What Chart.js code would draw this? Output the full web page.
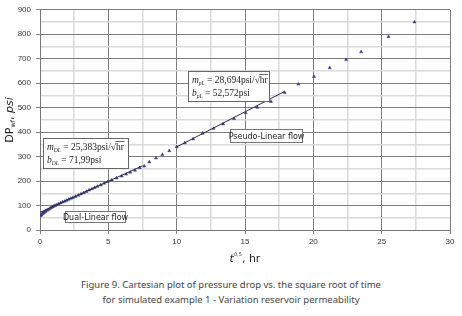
<!DOCTYPE html>
<html>
<head>
<meta charset="utf-8">
<script src="https://cdn.jsdelivr.net/npm/chart.js@4.4.1/dist/chart.umd.min.js"></script>
<style>
  html, body { margin: 0; padding: 0; background: #fff; }
  #wrap { position: relative; width: 462px; height: 316px; overflow: hidden; }
  #chart { position: absolute; left: 0; top: 0; }
  #caption {
    position: absolute; left: 0; top: 277px; width: 462px;
    text-align: center; font-family: "Noto Sans", sans-serif;
    font-size: 9.5px; line-height: 15px; color: #444;
  }
</style>
</head>
<body>
<div id="wrap">
  <canvas id="chart" width="462" height="270"></canvas>
  <div id="caption">Figure 9. Cartesian plot of pressure drop vs. the square root of time<br>for simulated example 1 - Variation reservoir permeability</div>
</div>
<script>
// simulated pressure drop vs sqrt(t)
const sqrtTime = [
  0.05, 0.1, 0.15, 0.2, 0.25, 0.3, 0.35, 0.4, 0.5, 0.6, 0.7, 0.8, 0.9, 1.0,
  1.1, 1.2, 1.35, 1.5, 1.65, 1.8, 1.95, 2.1, 2.25, 2.4, 2.6, 2.8, 3.0, 3.2,
  3.4, 3.6, 3.8, 4.0, 4.2, 4.45, 4.7, 4.95, 5.25, 5.6, 5.98, 6.3, 6.6, 6.95,
  7.3, 7.63, 8.0, 8.49, 8.95, 9.46, 10.0, 10.6, 11.2, 11.9, 12.7, 13.4, 14.2,
  15.05, 15.9, 16.9, 17.9, 18.9, 20.05, 21.2, 22.4, 23.5, 25.5, 27.4
];
const pressureDrop = [
  58, 62, 65, 68, 70, 72, 74, 76, 80, 83, 87, 91, 94, 97,
  100, 102, 106, 110, 114, 117, 121, 125, 129, 132, 137, 142, 147, 152,
  157, 163, 168, 173, 178, 184, 191, 197, 204, 212, 220, 228, 236, 244,
  254, 261, 278, 294, 308, 324, 340, 356, 372, 395, 415, 433, 455,
  479, 501, 525, 562, 596, 627, 663, 696, 728, 790, 850
];

// straight-line fits drawn on the plot
const dualLinearX = [0, 7.5];
const dualLinearY = [72, 262.4];
const pseudoLinearX = [10, 17.9];
const pseudoLinearY = [339.5, 566.2];

const xTicks = [0, 5, 10, 15, 20, 25, 30];
const yTicks = [0, 100, 200, 300, 400, 500, 600, 700, 800, 900];

const majorGrid = "#7d7d7d";
const minorGrid = "#dadada";

function toPoints(xs, ys) {
  return xs.map((x, i) => ({ x: x, y: ys[i] }));
}

function isMajor(v, list) {
  return list.indexOf(v) !== -1;
}

// draws text pieces one after another: [text, font, dy]
function drawRun(ctx, x, y, parts) {
  let cx = x;
  parts.forEach((p) => {
    ctx.font = p[1];
    ctx.fillText(p[0], cx, y + (p[2] || 0));
    const w = ctx.measureText(p[0]).width;
    if (p[3]) {
      // overline for the square root
      ctx.beginPath();
      ctx.moveTo(cx - 0.5, y - 8.5);
      ctx.lineTo(cx + w + 0.5, y - 8.5);
      ctx.lineWidth = 0.7;
      ctx.stroke();
    }
    cx += w;
  });
}

function fitBox(ctx, left, top, w, h, sub, slope, intercept) {
  ctx.save();
  ctx.fillStyle = "#fff";
  ctx.fillRect(left, top, w, h);
  ctx.strokeStyle = "#666";
  ctx.lineWidth = 1;
  ctx.strokeRect(left + 0.5, top + 0.5, w, h);
  ctx.fillStyle = "#222";
  ctx.strokeStyle = "#222";
  ctx.textBaseline = "alphabetic";
  const serif = "'Liberation Serif', serif";
  drawRun(ctx, left + 4, top + 12, [
    ["m", "italic 9.5px " + serif],
    [sub, "italic 5.5px " + serif, 2],
    [" = " + slope + "psi/", "9.5px " + serif],
    ["\u221A", "9.5px " + serif],
    ["hr", "9.5px " + serif, 0, true]
  ]);
  drawRun(ctx, left + 4, top + 25, [
    ["b", "italic 9.5px " + serif],
    [sub, "italic 5.5px " + serif, 2],
    [" = " + intercept + "psi", "9.5px " + serif]
  ]);
  ctx.restore();
}

function labelBox(ctx, left, top, w, h, text) {
  ctx.save();
  ctx.fillStyle = "#fff";
  ctx.fillRect(left, top, w, h);
  ctx.strokeStyle = "#777";
  ctx.lineWidth = 1;
  ctx.strokeRect(left + 0.5, top + 0.5, w, h);
  ctx.fillStyle = "#222";
  ctx.font = "8px 'DejaVu Sans', sans-serif";
  ctx.textAlign = "center";
  ctx.textBaseline = "middle";
  ctx.fillText(text, left + w / 2 + 0.5, top + h / 2 + 1);
  ctx.restore();
}

const notesPlugin = {
  id: "notes",
  afterDraw(chart) {
    const ctx = chart.ctx;
    const xs = chart.scales.x;
    const ys = chart.scales.y;
    const area = chart.chartArea;

    fitBox(ctx, Math.round(xs.getPixelForValue(0.22)), Math.round(ys.getPixelForValue(374)),
      85, 30, "DL", "25,383", "71,99");
    fitBox(ctx, Math.round(xs.getPixelForValue(10.8)), Math.round(ys.getPixelForValue(650)),
      81, 30, "pL", "28,694", "52,572");
    labelBox(ctx, Math.round(xs.getPixelForValue(1.83)), Math.round(ys.getPixelForValue(77)),
      60, 11, "Dual-Linear flow");
    labelBox(ctx, Math.round(xs.getPixelForValue(13.9)), Math.round(ys.getPixelForValue(412)),
      72, 13, "Pseudo-Linear flow");

    // y axis title
    ctx.save();
    ctx.translate(10, (area.top + area.bottom) / 2);
    ctx.rotate(-Math.PI / 2);
    ctx.fillStyle = "#222";
    ctx.textBaseline = "middle";
    const sans = "'DejaVu Sans', sans-serif";
    const yParts = [
      ["DP", "11px " + sans, 0],
      ["wf", "6.5px " + sans, 3],
      [", ", "11px " + sans, 0],
      ["psi", "italic 11px " + sans, 0]
    ];
    let total = 0;
    yParts.forEach((p) => { ctx.font = p[1]; total += ctx.measureText(p[0]).width; });
    drawRun(ctx, -total / 2, 0, yParts);
    ctx.restore();

    // x axis title
    ctx.save();
    ctx.fillStyle = "#222";
    ctx.textBaseline = "alphabetic";
    const xParts = [
      ["t", "italic 11px " + sans, 0],
      ["0,5", "5px " + sans, -6],
      [", hr", "11px " + sans, 0]
    ];
    total = 0;
    xParts.forEach((p) => { ctx.font = p[1]; total += ctx.measureText(p[0]).width; });
    drawRun(ctx, (area.left + area.right) / 2 - total / 2, 262, xParts);
    ctx.restore();
  }
};

function buildChart() {
  const ctx = document.getElementById("chart").getContext("2d");

  new Chart(ctx, {
    type: "scatter",
    data: {
      datasets: [
        {
          label: "Dual-Linear fit",
          data: toPoints(dualLinearX, dualLinearY),
          showLine: true,
          borderColor: "#2a2a4a",
          borderWidth: 1,
          pointRadius: 0
        },
        {
          label: "Pseudo-Linear fit",
          data: toPoints(pseudoLinearX, pseudoLinearY),
          showLine: true,
          borderColor: "#2a2a4a",
          borderWidth: 1,
          pointRadius: 0
        },
        {
          label: "Simulated",
          data: toPoints(sqrtTime, pressureDrop),
          pointStyle: "triangle",
          pointRadius: 1.8,
          backgroundColor: "#3b3b7e",
          borderColor: "#3b3b7e",
          borderWidth: 0.5
        }
      ]
    },
    options: {
      responsive: false,
      animation: false,
      layout: { padding: { left: 0, right: 12, top: 6, bottom: 0 } },
      plugins: {
        legend: { display: false },
        tooltip: { enabled: false }
      },
      scales: {
        x: {
          type: "linear",
          min: 0,
          max: 30,
          afterFit: (scale) => { scale.height = 40; },
          ticks: {
            stepSize: 2.5,
            autoSkip: false,
            maxRotation: 0,
            padding: 3,
            color: "#333",
            font: { family: "'Liberation Sans', sans-serif", size: 8 },
            callback: (v) => (isMajor(v, xTicks) ? v : "")
          },
          grid: {
            color: (c) => (c.tick && isMajor(c.tick.value, xTicks) ? majorGrid : minorGrid),
            lineWidth: (c) => (c.tick && isMajor(c.tick.value, xTicks) ? 1 : 1.5),
            tickColor: (c) => (c.tick && isMajor(c.tick.value, xTicks) ? majorGrid : "rgba(0,0,0,0)"),
            tickLength: 4
          },
          border: { color: "#777", width: 1 }
        },
        y: {
          type: "linear",
          min: 0,
          max: 900,
          afterFit: (scale) => { scale.width = 40; },
          ticks: {
            stepSize: 50,
            autoSkip: false,
            padding: 5,
            color: "#333",
            font: { family: "'Liberation Sans', sans-serif", size: 8 },
            callback: (v) => (isMajor(v, yTicks) ? v : "")
          },
          grid: {
            color: (c) => (c.tick && isMajor(c.tick.value, yTicks) ? majorGrid : minorGrid),
            lineWidth: (c) => (c.tick && isMajor(c.tick.value, yTicks) ? 1 : 1.5),
            tickColor: (c) => (c.tick && isMajor(c.tick.value, yTicks) ? majorGrid : "rgba(0,0,0,0)"),
            tickLength: 4
          },
          border: { color: "#777", width: 1 }
        }
      }
    },
    plugins: [notesPlugin]
  });
}

buildChart();
</script>
</body>
</html>
